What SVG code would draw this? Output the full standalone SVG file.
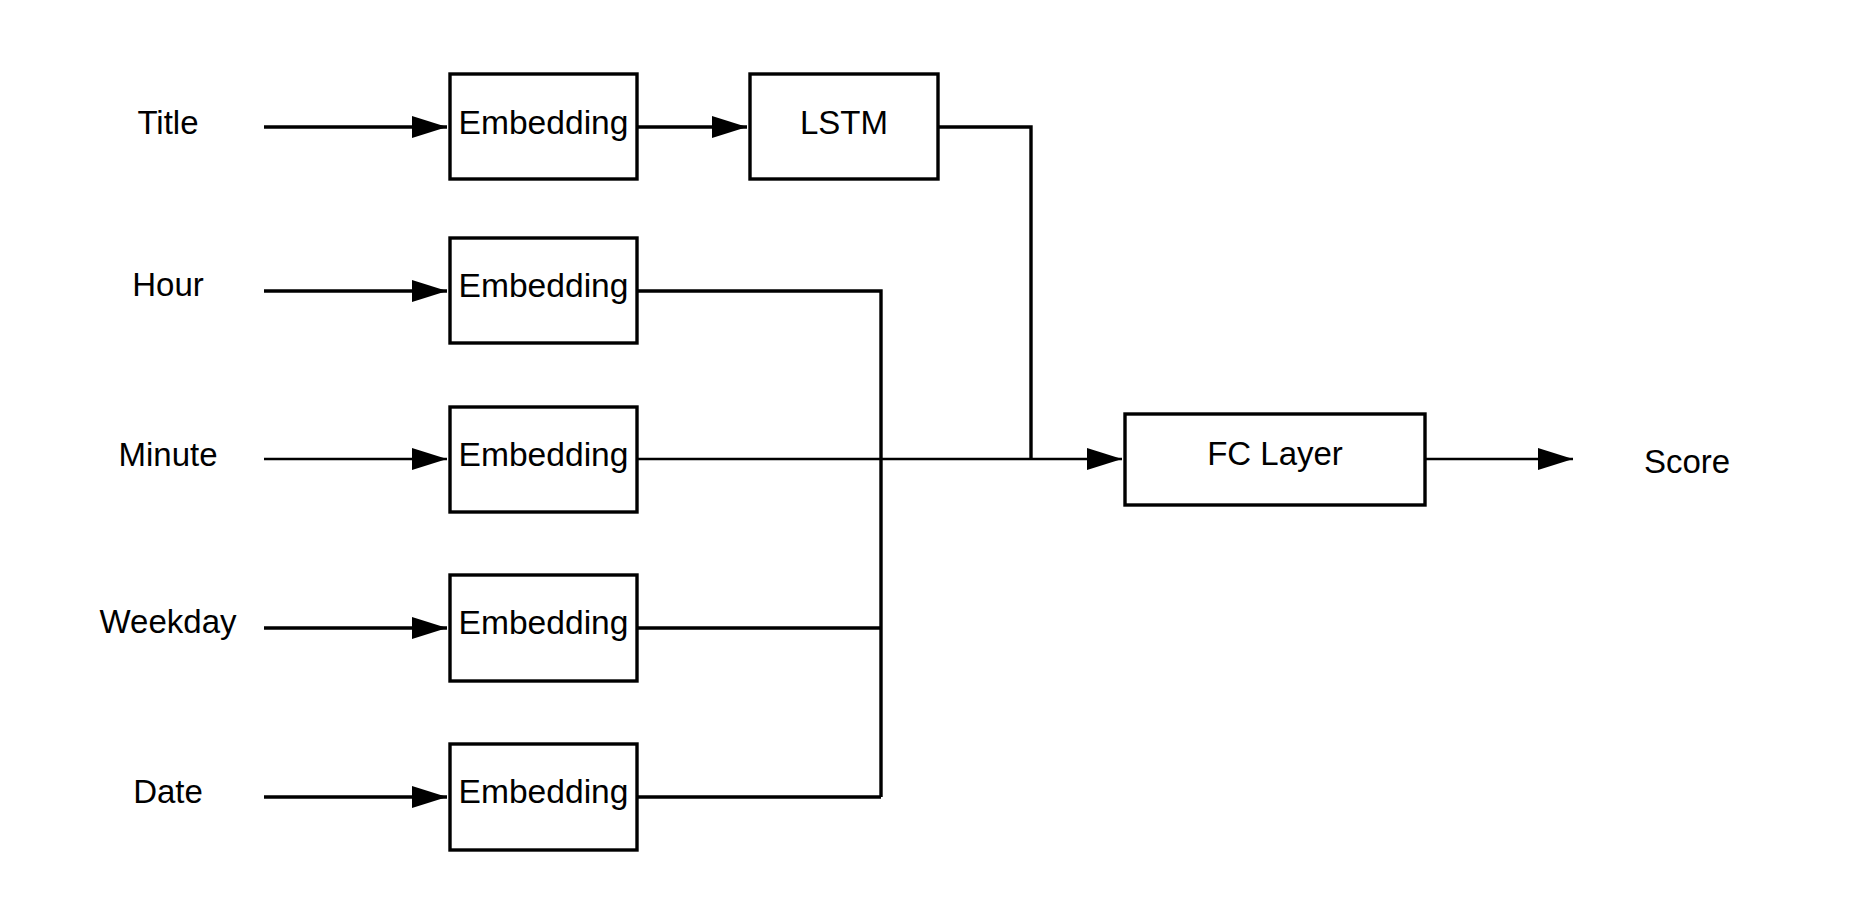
<svg xmlns="http://www.w3.org/2000/svg" width="1875" height="924" viewBox="0 0 1875 924">
<style>
.box{fill:#fff;stroke:#000;stroke-width:3.4}
.lbl{font-family:"Liberation Sans",Arial,sans-serif;font-size:33px;fill:#000;text-anchor:middle}
.emb{font-size:33.6px}
.c{fill:none;stroke:#000;stroke-width:3.4}
.t{fill:none;stroke:#000;stroke-width:2.5}
</style>
<defs>
<marker id="ah" markerUnits="userSpaceOnUse" markerWidth="36" markerHeight="24" refX="35" refY="11" orient="auto">
<path d="M0,0 L35,11 L0,22 z" fill="#000"/>
</marker>
</defs>
<rect width="1875" height="924" fill="#fff"/>
<g id="connectors">
<path class="c" d="M264,127 H447" marker-end="url(#ah)"/>
<path class="c" d="M637,127 H747" marker-end="url(#ah)"/>
<path class="c" d="M938,127 H1031 V459"/>
<path class="c" d="M264,291 H447" marker-end="url(#ah)"/>
<path class="c" d="M637,291 H881 V797"/>
<path class="t" d="M264,459 H447" marker-end="url(#ah)"/>
<path class="t" d="M637,459 H1122" marker-end="url(#ah)"/>
<path class="c" d="M264,628 H447" marker-end="url(#ah)"/>
<path class="c" d="M637,628 H881"/>
<path class="c" d="M264,797 H447" marker-end="url(#ah)"/>
<path class="c" d="M637,797 H881"/>
<path class="t" d="M1425,459 H1573" marker-end="url(#ah)"/>
</g>
<g id="label-title"><text class="lbl" x="168" y="134">Title</text></g>
<g id="label-hour"><text class="lbl" x="168" y="296">Hour</text></g>
<g id="label-minute"><text class="lbl" x="168" y="466">Minute</text></g>
<g id="label-weekday"><text class="lbl" x="168" y="633">Weekday</text></g>
<g id="label-date"><text class="lbl" x="168" y="803">Date</text></g>
<g id="emb-title"><rect class="box" x="450" y="74" width="187" height="105"/><text class="lbl emb" x="543.5" y="134">Embedding</text></g>
<g id="emb-hour"><rect class="box" x="450" y="238" width="187" height="105"/><text class="lbl emb" x="543.5" y="297">Embedding</text></g>
<g id="emb-minute"><rect class="box" x="450" y="407" width="187" height="105"/><text class="lbl emb" x="543.5" y="466">Embedding</text></g>
<g id="emb-weekday"><rect class="box" x="450" y="575" width="187" height="106"/><text class="lbl emb" x="543.5" y="634">Embedding</text></g>
<g id="emb-date"><rect class="box" x="450" y="744" width="187" height="106"/><text class="lbl emb" x="543.5" y="803">Embedding</text></g>
<g id="lstm"><rect class="box" x="750" y="74" width="188" height="105"/><text class="lbl" x="844" y="134">LSTM</text></g>
<g id="fc"><rect class="box" x="1125" y="414" width="300" height="91"/><text class="lbl" x="1275" y="465">FC Layer</text></g>
<g id="label-score"><text class="lbl" x="1687" y="473">Score</text></g>
</svg>
